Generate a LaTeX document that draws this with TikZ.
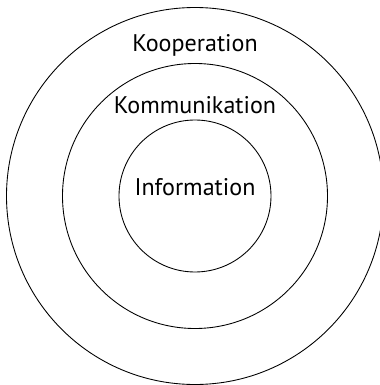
\documentclass[tikz,border=0pt]{standalone}
\usepackage{fontspec}
\setmainfont{PT Sans}
\begin{document}
\begin{tikzpicture}[font=\fontsize{13.7}{16}\selectfont]
\useasboundingbox (-3.9,-3.78) rectangle (3.7,3.92);
\draw[line width=0.5pt] (0,0) circle (3.77);
\node[anchor=base] (koop) at (0,2.89) {Kooperation};
\draw[line width=0.5pt] (0,0) circle (2.65);
\node[anchor=base] (komm) at (0,1.65) {Kommunikation};
\draw[line width=0.5pt] (0,0) circle (1.52);
\node[anchor=base] (info) at (0,0.02) {Information};
\end{tikzpicture}
\end{document}
